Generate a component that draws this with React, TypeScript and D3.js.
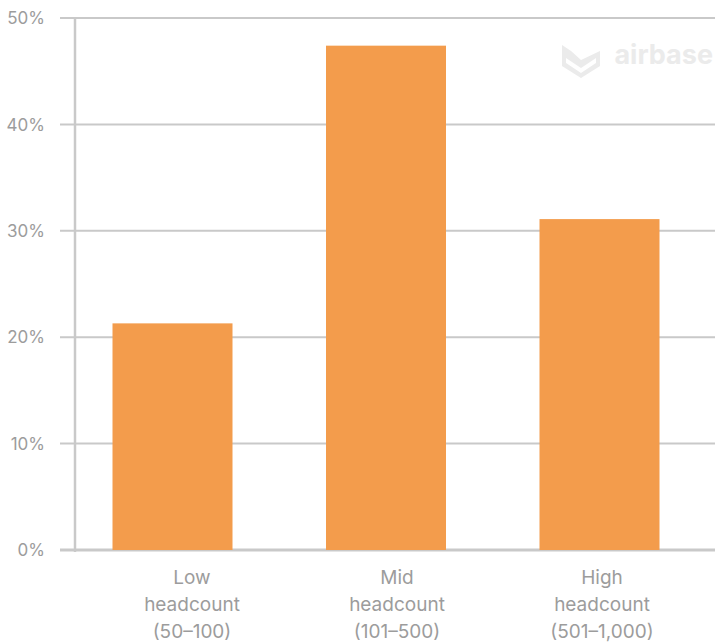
import React from "react";
import * as d3 from "d3";

const categories = ["Low", "Mid", "High"];
const categoryLines = [
  ["Low", "headcount", "(50–100)"],
  ["Mid", "headcount", "(101–500)"],
  ["High", "headcount", "(501–1,000)"],
];
const values = [21.3, 47.4, 31.1];
const yTicks = [0, 10, 20, 30, 40, 50];

const W = 715;
const H = 643;
const FONT = "Inter, 'Noto Sans', Roboto, sans-serif";

export default function App() {
  const y = d3.scaleLinear().domain([0, 50]).range([550, 18]);
  const step = 213.5;
  const bw = 120;
  const x = d3
    .scaleBand<string>()
    .domain(categories)
    .range([112.5 - (step - bw), 112.5 - (step - bw) + step * 3 + (step - bw)])
    .paddingInner(1 - bw / step)
    .paddingOuter(1 - bw / step);
  const xl = d3.scalePoint<string>().domain(categories).range([192, 602]);

  const barColor = "#F39C4C";
  const gridColor = "#C9C9C9";
  const textColor = "#9C9C9C";

  return (
    <svg
      width={W}
      height={H}
      style={{ position: "absolute", left: 0, top: 0, display: "block" }}
    >
      {yTicks.map((t) => (
        <line
          key={"g" + t}
          x1={60}
          x2={W}
          y1={y(t)}
          y2={y(t)}
          stroke={gridColor}
          strokeWidth={t === 0 ? 3 : 2}
        />
      ))}
      <line x1={75} x2={75} y1={y(50)} y2={y(0) + 2} stroke={gridColor} strokeWidth={2.5} />
      {yTicks.map((t) => (
        <text
          key={"t" + t}
          x={45}
          y={y(t)}
          dy="0.36em"
          textAnchor="end"
          fill={textColor}
          fontFamily={FONT}
          fontSize={17}
        >
          {t + "%"}
        </text>
      ))}
      {/* watermark */}
      <g fill="#EBEBEB" transform="translate(562,45)">
        <path
          d="M0,0 L9,6 L19,15 L38,6 L38,21 L19,33 L0,21 Z M4,13 L19,23 L34,13 L34,18 L19,28 L4,18 Z"
          fillRule="evenodd"
        />
      </g>
      <text
        x={713}
        y={64}
        textAnchor="end"
        fill="#EBEBEB"
        fontFamily={FONT}
        fontWeight={700}
        fontSize={27}
      >
        airbase
      </text>
      {categories.map((c, i) => (
        <rect
          key={c}
          x={x(c) as number}
          y={y(values[i])}
          width={x.bandwidth()}
          height={y(0) - y(values[i])}
          fill={barColor}
        />
      ))}
      {categories.map((c, i) => (
        <text
          key={"l" + c}
          textAnchor="middle"
          fill={textColor}
          fontFamily={FONT}
          fontSize={19}
        >
          {categoryLines[i].map((ln, j) => (
            <tspan key={j} x={xl(c) as number} y={584 + j * 27}>
              {ln}
            </tspan>
          ))}
        </text>
      ))}
    </svg>
  );
}
